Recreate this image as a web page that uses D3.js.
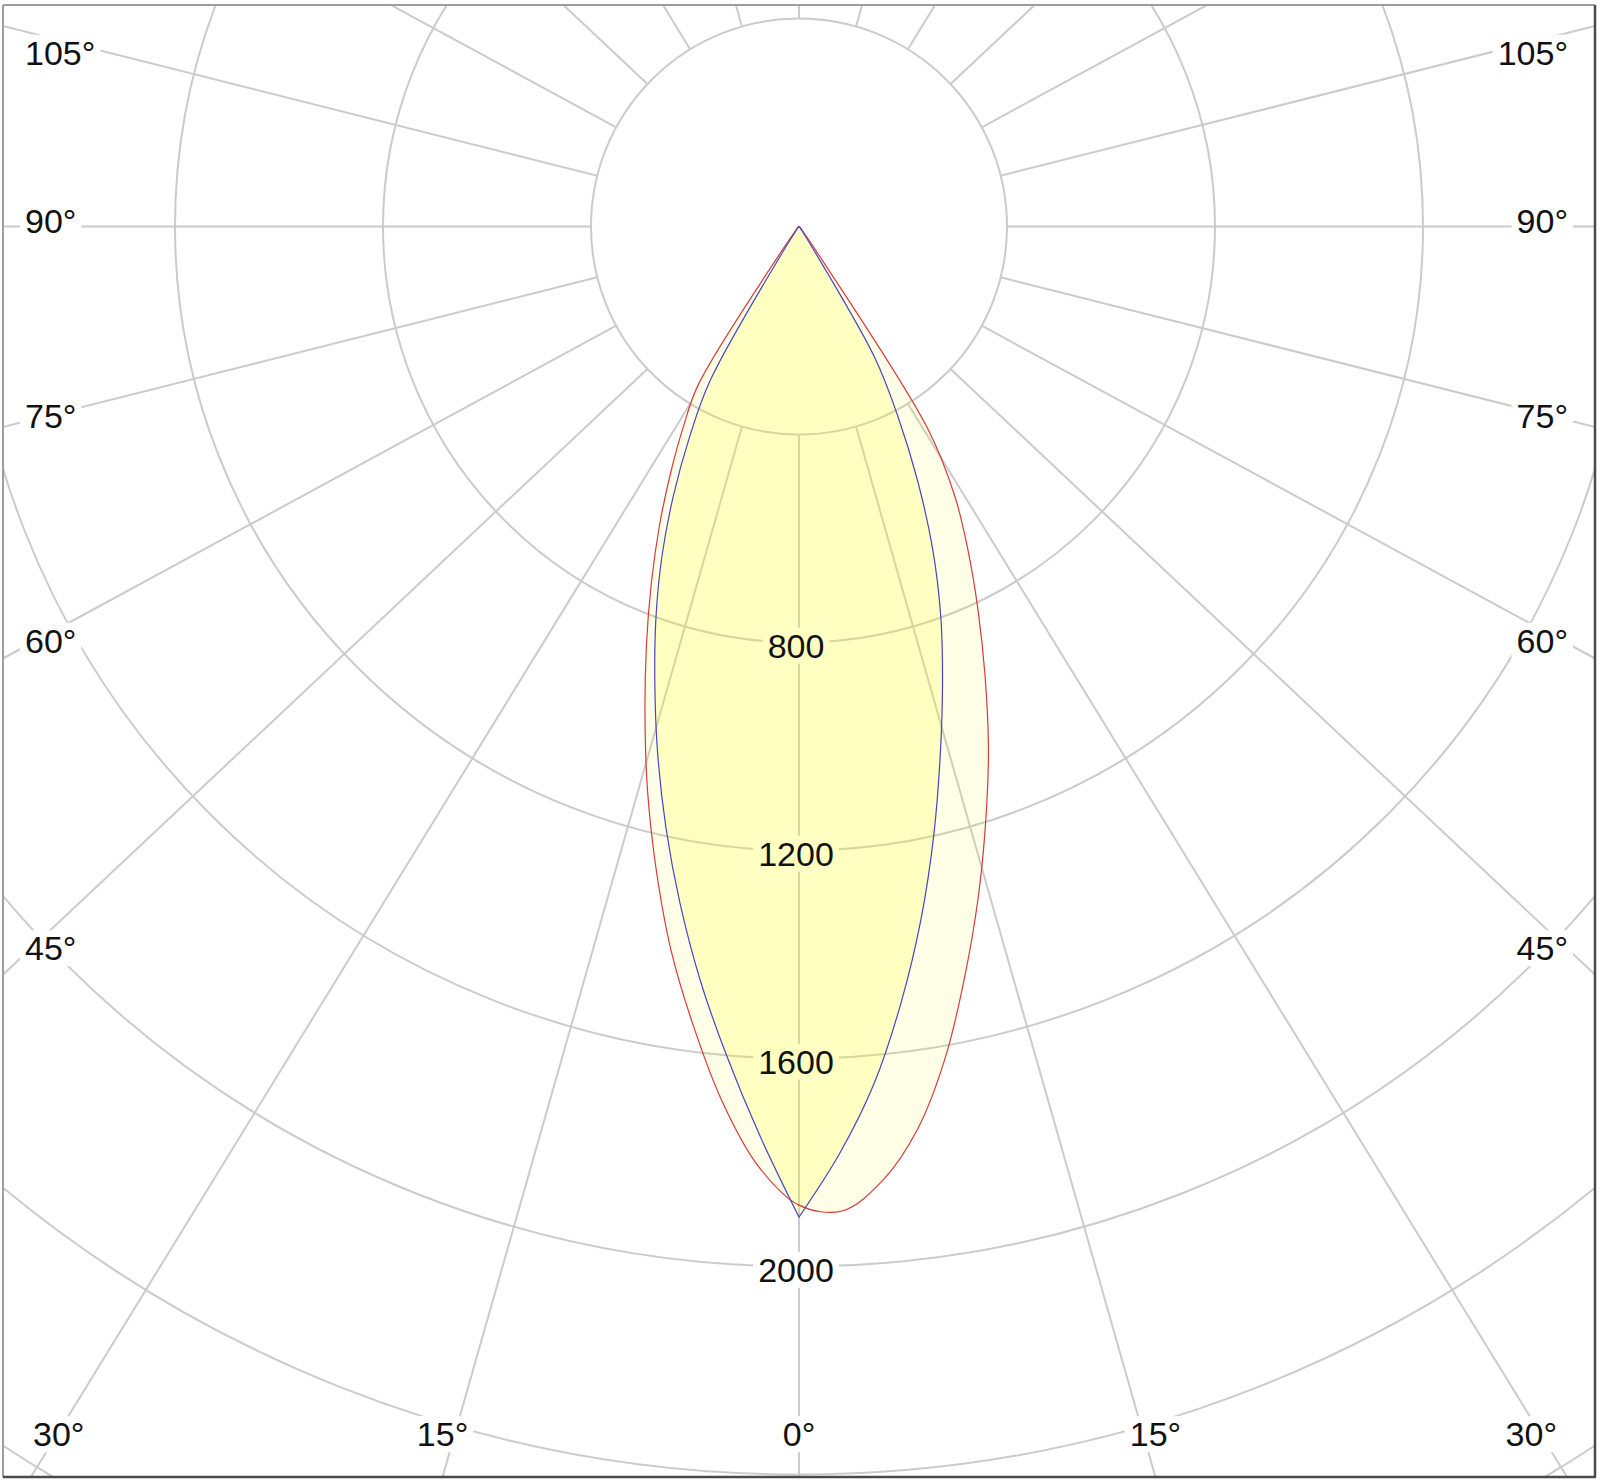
<!DOCTYPE html>
<html><head><meta charset="utf-8">
<script src="https://cdn.jsdelivr.net/npm/d3@7"></script>
<style>
body{margin:0;background:#fff}
svg{display:block}
text{font-family:"Liberation Sans",Arial,sans-serif;fill:#111}
</style></head>
<body><svg id="chart" width="1600" height="1484"></svg>
<script>
// ---- data -------------------------------------------------------------
// gamma angles (deg) from nadir; negative = left half, positive = right half
const angles = [-90,-85,-80,-75,-70,-65,-60,-55,-50,-45,-40,
  -37.5,-35,-32.5,-30,-27.5,-25,-22.5,-20,-17.5,-15,-12.5,-10,-7.5,-5,-2.5,
  0,2.5,5,7.5,10,12.5,15,17.5,20,22.5,25,27.5,30,32.5,35,37.5,
  40,45,50,55,60,65,70,75,80,85,90];
// C0-C180 plane (blue), cd
const planeC0 = [0,0,0,0,0,1,1,2,2,3,4,
  6,12,60,340,455,572,690,805,922,1050,1183,1320,1460,1600,1748,
  1905,1785,1655,1505,1352,1198,1050,918,797,672,540,412,292,40,10,5,
  3,2,1,1,0,0,0,0,0,0,0];
// C90-C270 plane (red), cd
const planeC90 = [0,0,0,0,0,1,2,3,4,6,9,
  18,70,360,445,535,635,742,858,985,1125,1268,1415,1552,1690,1808,
  1882,1895,1842,1750,1622,1475,1333,1195,1065,935,815,705,600,460,60,15,
  8,5,3,2,1,1,0,0,0,0,0];
const circleValues = [400,800,1200,1600,2000,2400,2800,3200];
const radialLabels = [800,1200,1600,2000];
const spokeAngles = d3.range(0,360,15);
const angleLabels = [-105,-90,-75,-60,-45,-30,-15,0,15,30,45,60,75,90,105];

// ---- layout -------------------------------------------------------------
const cx = 799, cy = 226.5;
const box = {x0:3, y0:5, x1:1595, y1:1477};
const gridAspect = 0.94;
const fs = 34;
const r = d3.scaleLinear().domain([0,1000]).range([0,520]);

const svg = d3.select("#chart");
svg.append("rect").attr("width",1600).attr("height",1484).attr("fill","#fff");
svg.append("defs").append("clipPath").attr("id","clip")
  .append("rect").attr("x",box.x0).attr("y",box.y0)
  .attr("width",box.x1-box.x0).attr("height",box.y1-box.y0);

const g = svg.append("g").attr("clip-path","url(#clip)");
const grid = g.append("g").attr("fill","none").attr("stroke","#cbcbcb").attr("stroke-width",2);

function dir(theta){
  const t = theta*Math.PI/180;
  let dx = Math.sin(t), dy = gridAspect*Math.cos(t);
  const n = Math.hypot(dx,dy);
  return [dx/n, dy/n];
}
spokeAngles.forEach(a=>{
  const [dx,dy] = dir(a);
  const r0 = r(circleValues[0]);
  grid.append("line")
    .attr("x1",cx+r0*dx).attr("y1",cy+r0*dy)
    .attr("x2",cx+3000*dx).attr("y2",cy+3000*dy);
});
grid.selectAll("circle").data(circleValues).join("circle")
  .attr("cx",cx).attr("cy",cy).attr("r",d=>r(d));

// label backgrounds below fills, label text above
const bgLayer = g.append("g");
const curves = g.append("g").attr("transform",`translate(${cx},${cy})`);
const txtLayer = g.append("g");
function addLabel(txt,x,y,anchor){
  const t = txtLayer.append("text").attr("x",x).attr("y",y)
    .attr("text-anchor",anchor).attr("font-size",fs).text(txt);
  const b = t.node().getBBox();
  bgLayer.append("rect").attr("x",b.x-5).attr("y",b.y+1)
    .attr("width",b.width+10).attr("height",b.height-2).attr("fill","#fff");
}
const capOff = 0.358*fs;
radialLabels.forEach(v=>{
  addLabel(String(v), cx-3, cy+r(v)+3+capOff, "middle");
});
angleLabels.forEach(a=>{
  const [dx,dy] = dir(a);
  const txt = Math.abs(a)+"°";
  if (Math.abs(a) >= 45){
    const xr = a<0 ? 25 : 2*cx-25;
    const y = Math.max(52.5, cy + (xr-cx)*dy/dx - 6);
    if (a<0) addLabel(txt, 25, y+capOff, "start");
    else addLabel(txt, 1568, y+capOff, "end");
  } else {
    const yc = 1434;
    let x = a===0 ? cx : cx + (box.y1-cy)*dx/dy;
    const w = txt.length===2 ? 0.956*fs : 1.512*fs;
    x = Math.max(33+w/2, Math.min(1557-w/2, x));
    addLabel(txt, x, yc+capOff, "middle");
  }
});

// photometric curves
const line = d3.lineRadial()
  .angle(d=>Math.PI - d[0]*Math.PI/180)
  .radius(d=>r(d[1]))
  .curve(d3.curveCatmullRom.alpha(0.5));
const redData = angles.map((a,i)=>[a,planeC90[i]]);
const blueData = angles.map((a,i)=>[a,planeC0[i]]);
const iz = angles.indexOf(0);
// blue curve has a pointed peak at nadir: draw both halves separately
const bluePath = line(blueData.slice(0,iz+1)) + line(blueData.slice(iz)).replace(/^M/,"L");
const redPath = line(redData);
curves.append("path").attr("d",redPath+"Z").attr("fill","rgba(255,255,0,0.09)").attr("stroke","none");
curves.append("path").attr("d",bluePath+"Z").attr("fill","rgba(255,255,0,0.17)").attr("stroke","none");
curves.append("path").attr("d",redPath).attr("fill","none").attr("stroke","#d83a3a").attr("stroke-width",1.2);
curves.append("path").attr("d",bluePath).attr("fill","none").attr("stroke","#4646c8").attr("stroke-width",1.2);

// frame
svg.append("line").attr("x1",box.x0).attr("y1",box.y0).attr("x2",box.x1).attr("y2",box.y0).attr("stroke","#9d9d9d").attr("stroke-width",2);
svg.append("line").attr("x1",box.x0).attr("y1",box.y0).attr("x2",box.x0).attr("y2",box.y1).attr("stroke","#9d9d9d").attr("stroke-width",2);
svg.append("line").attr("x1",box.x0).attr("y1",box.y1).attr("x2",box.x1+1).attr("y2",box.y1).attr("stroke","#4a4a4a").attr("stroke-width",2.5);
svg.append("line").attr("x1",box.x1).attr("y1",box.y0).attr("x2",box.x1).attr("y2",box.y1).attr("stroke","#4a4a4a").attr("stroke-width",2.5);
</script></body></html>
